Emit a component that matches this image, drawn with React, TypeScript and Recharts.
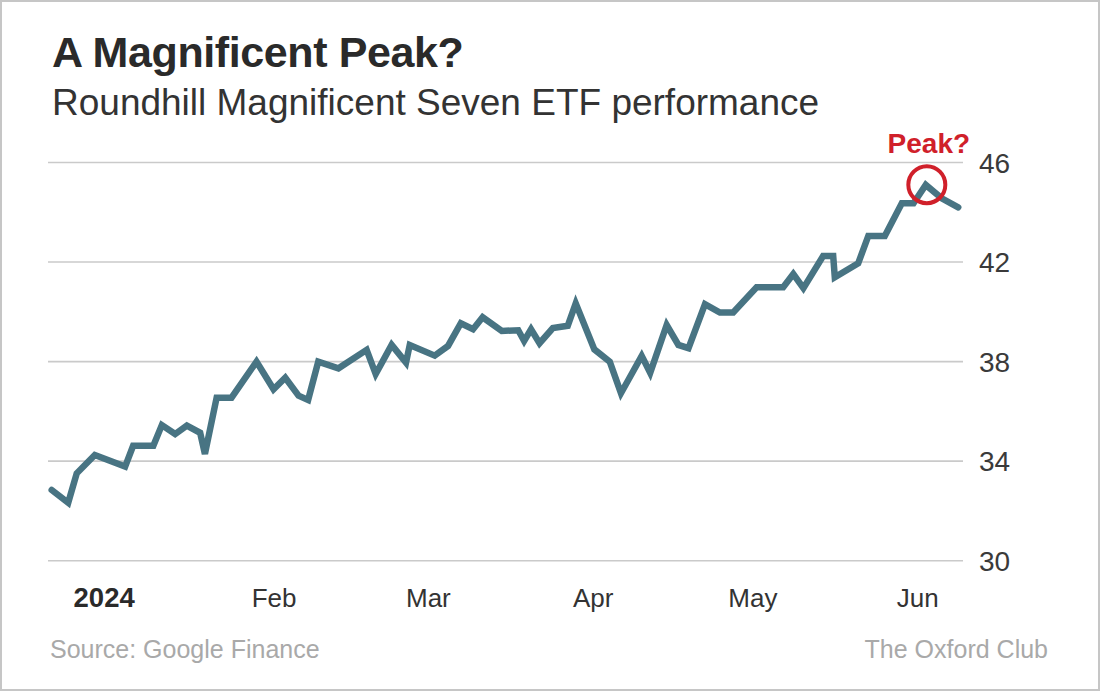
import React from "react";
import {
  CartesianGrid,
  Line,
  LineChart,
  ReferenceDot,
  XAxis,
  YAxis,
} from "recharts";

// days counted from Jan 1, 2024 (negative = late Dec 2023)
const days = [
  -10.8, -7.7, -6.1, -2.7, 3.0, 4.5, 8.3, 9.9, 12.4, 14.6, 17.1, 18.0, 20.2,
  23.0, 27.7, 30.9, 33.1, 35.6, 37.4, 39.3, 43.1, 48.4, 50.1, 53.1, 55.8, 56.5,
  61.2, 63.7, 66.1, 68.4, 70.2, 73.8, 76.9, 78.0, 79.3, 80.9, 83.4, 86.2, 87.7,
  91.2, 94.1, 96.2, 100.1, 101.7, 104.8, 107.0, 108.9, 112.0, 114.8, 117.3,
  121.7, 126.7, 128.6, 130.5, 134.2, 136.1, 136.4, 140.8, 142.7, 145.8, 149.0,
  151.2, 153.5, 156.5, 159.6,
];

const prices = [
  32.84, 32.33, 33.51, 34.25, 33.78, 34.62, 34.62, 35.45, 35.09, 35.43, 35.14,
  34.29, 36.55, 36.55, 38.0, 36.89, 37.35, 36.63, 36.46, 38.0, 37.73, 38.47,
  37.5, 38.67, 37.96, 38.67, 38.24, 38.63, 39.54, 39.3, 39.78, 39.23, 39.26,
  38.83, 39.3, 38.74, 39.35, 39.44, 40.34, 38.49, 38.0, 36.73, 38.23, 37.55,
  39.47, 38.67, 38.54, 40.31, 39.97, 39.97, 40.99, 40.99, 41.52, 40.95, 42.24,
  42.24, 41.39, 41.95, 43.05, 43.05, 44.36, 44.36, 45.1, 44.56, 44.2,
];

const monthTicks = [0, 31, 60, 91, 121, 152];
const monthLabels = ["2024", "Feb", "Mar", "Apr", "May", "Jun"];
const priceTicks = [30, 34, 38, 42, 46];

const peakDay = 153.7;
const peakPrice = 45.11;

const data = days.map((day, i) => ({ day, price: prices[i] }));

const FONT = "'Liberation Sans', Arial, Helvetica, sans-serif";

function MonthTick(props: any) {
  const { x, y, payload } = props;
  const idx = monthTicks.indexOf(payload.value);
  const first = idx === 0;
  return (
    <text
      x={x + (first ? -5 : 0)}
      y={y + 46.5}
      textAnchor="middle"
      fontFamily={FONT}
      fontSize={first ? 27.5 : 26}
      fontWeight={first ? 700 : 400}
      fill={first ? "#2a2a2a" : "#333"}
    >
      {monthLabels[idx]}
    </text>
  );
}

function PriceTick(props: any) {
  const { x, y, payload } = props;
  return (
    <text
      x={x}
      y={y + 10}
      textAnchor="start"
      fontFamily={FONT}
      fontSize={28}
      fill="#3a3a3a"
    >
      {payload.value}
    </text>
  );
}

function PeakLabel(props: any) {
  const { viewBox } = props;
  const cx = viewBox.x + viewBox.width / 2;
  return (
    <text
      x={cx + 2}
      y={153.3}
      textAnchor="middle"
      fontFamily={FONT}
      fontSize={28}
      fontWeight={700}
      fill="#d0202a"
    >
      Peak?
    </text>
  );
}

export default function App() {
  return (
    <div
      style={{
        position: "fixed",
        left: 0,
        top: 0,
        width: 1100,
        height: 691,
        background: "#fff",
        fontFamily: FONT,
        overflow: "hidden",
      }}
    >
      <div
        style={{
          position: "absolute",
          left: 52,
          top: 67 - 39,
          fontSize: 43,
          lineHeight: "49px",
          fontWeight: 700,
          letterSpacing: -0.4,
          color: "#2a2a2a",
          whiteSpace: "nowrap",
        }}
      >
        A Magnificent Peak?
      </div>
      <div
        style={{
          position: "absolute",
          left: 52,
          top: 115 - 33,
          fontSize: 37,
          lineHeight: "42px",
          color: "#333",
          whiteSpace: "nowrap",
        }}
      >
        Roundhill Magnificent Seven ETF performance
      </div>

      <div style={{ position: "absolute", left: 0, top: 0 }}>
        <LineChart
          width={1100}
          height={691}
          data={data}
          margin={{ top: 162.5, right: 0, bottom: 70.3, left: 48 }}
        >
          <CartesianGrid
            vertical={false}
            stroke="#cacaca"
            strokeWidth={1.6}
          />
          <XAxis
            dataKey="day"
            type="number"
            domain={[-11.5, 160.5]}
            ticks={monthTicks}
            interval={0}
            axisLine={false}
            tickLine={false}
            tickSize={0}
            tickMargin={0}
            height={60}
            tick={<MonthTick />}
          />
          <YAxis
            orientation="right"
            type="number"
            domain={[30, 46]}
            ticks={priceTicks}
            interval={0}
            axisLine={false}
            tickLine={false}
            tickSize={0}
            tickMargin={16}
            width={137}
            tick={<PriceTick />}
          />
          <Line
            dataKey="price"
            type="linear"
            stroke="#487483"
            strokeWidth={6.5}
            strokeLinejoin="miter"
            strokeLinecap="round"
            dot={false}
            activeDot={false}
            isAnimationActive={false}
          />
          <ReferenceDot
            x={peakDay}
            y={peakPrice}
            r={18.5}
            fill="none"
            stroke="#d0202a"
            strokeWidth={4}
            label={<PeakLabel />}
          />
        </LineChart>
      </div>

      <div
        style={{
          position: "absolute",
          left: 50,
          top: 658 - 23,
          fontSize: 25,
          lineHeight: "29px",
          color: "#a9a9a9",
          whiteSpace: "nowrap",
        }}
      >
        Source: Google Finance
      </div>
      <div
        style={{
          position: "absolute",
          right: 1100 - 1048,
          top: 658 - 23,
          fontSize: 25,
          lineHeight: "29px",
          color: "#a9a9a9",
          whiteSpace: "nowrap",
        }}
      >
        The Oxford Club
      </div>

      <div
        style={{
          position: "absolute",
          left: 0,
          top: 0,
          width: 1100,
          height: 691,
          boxSizing: "border-box",
          border: "2px solid #c6c6c6",
          pointerEvents: "none",
        }}
      />
    </div>
  );
}
